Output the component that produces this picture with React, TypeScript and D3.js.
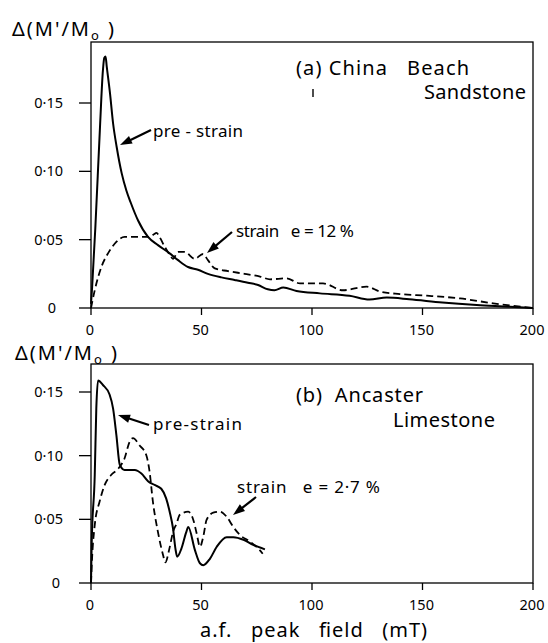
import React from "react";
import * as d3 from "d3";

// ---------- data ----------
const X_TICKS = [0, 50, 100, 150, 200];
const X_TICK_LABELS = ["0", "50", "100", "150", "200"];
const Y_TICKS = [0, 0.05, 0.1, 0.15];
const Y_TICK_LABELS = ["0", "0·05", "0·10", "0·15"];

// (a) China Beach Sandstone
const aPreX = [0, 0.5, 2, 4, 5.4, 6, 6.6, 7.1, 8.6, 10, 11.6, 13.9, 16, 18, 21.3, 25.8, 30.3, 35.6, 39.4, 43.9, 48.4, 52.9, 59, 65, 71, 75.6, 80, 83, 87, 93, 103.6, 117, 126, 133.8, 144, 159, 174.5, 189.6, 200];
const aPreY = [0.003, 0.015, 0.06, 0.13, 0.174, 0.183, 0.184, 0.177, 0.157, 0.135, 0.118, 0.0985, 0.086, 0.077, 0.064, 0.052, 0.046, 0.04, 0.035, 0.03, 0.028, 0.025, 0.0224, 0.0205, 0.0185, 0.0168, 0.0137, 0.013, 0.015, 0.0124, 0.0107, 0.009, 0.0062, 0.0076, 0.0064, 0.004, 0.0022, 0.001, 0.0];
const aStrainX = [0, 0.5, 1.7, 4.7, 7.7, 10.7, 15.2, 21.3, 26.5, 28.5, 29.6, 31, 33.3, 35.6, 37.1, 39.4, 42.4, 46.9, 50.7, 52.9, 56, 62, 69.5, 76.5, 81, 88.5, 94.6, 105, 114, 124.7, 130.8, 139.8, 152, 167, 182, 197, 200];
const aStrainY = [0, 0.004, 0.013, 0.03, 0.04, 0.047, 0.052, 0.052, 0.052, 0.054, 0.055, 0.052, 0.045, 0.039, 0.036, 0.041, 0.041, 0.036, 0.0395, 0.035, 0.029, 0.027, 0.025, 0.023, 0.021, 0.0217, 0.018, 0.018, 0.013, 0.0156, 0.012, 0.0102, 0.009, 0.007, 0.0034, 0.0005, 0];

// (b) Ancaster Limestone
const bPreX = [0, 0.3, 1.7, 2.4, 3.2, 5.4, 8.4, 10, 11.5, 13, 15.2, 19.8, 22.8, 25.8, 28.8, 31.8, 34, 35.6, 37.1, 38.2, 39, 40.9, 43.1, 44, 47, 49.3, 50.8, 53.8, 56.9, 61.4, 64.4, 69, 73.4, 78.7];
const bPreY = [0, 0.03, 0.085, 0.137, 0.159, 0.1555, 0.148, 0.137, 0.116, 0.093, 0.0888, 0.0888, 0.086, 0.08, 0.077, 0.074, 0.0665, 0.056, 0.043, 0.027, 0.0207, 0.027, 0.04, 0.044, 0.026, 0.0155, 0.014, 0.019, 0.0285, 0.036, 0.036, 0.034, 0.03, 0.0264];
const bStrainX = [0, 0.5, 1.7, 3.9, 6.2, 9.2, 12.2, 15.2, 17.5, 19, 22, 25, 26.5, 28, 30.3, 32.6, 33.6, 35.6, 37.1, 38.8, 40.1, 44, 46.3, 47.8, 49.3, 50.8, 52.3, 55.3, 58.4, 61.4, 64.4, 67.4, 72, 75.7, 77.7];
const bStrainY = [0, 0.02, 0.0456, 0.064, 0.077, 0.085, 0.0895, 0.098, 0.111, 0.1137, 0.108, 0.1005, 0.0875, 0.064, 0.04, 0.022, 0.0162, 0.028, 0.04, 0.047, 0.0534, 0.056, 0.0495, 0.039, 0.0285, 0.0364, 0.0495, 0.0552, 0.056, 0.052, 0.044, 0.0377, 0.0325, 0.027, 0.023];

const FONT = "'Noto Sans', 'DejaVu Sans', sans-serif";
const PRE: React.CSSProperties = { whiteSpace: "pre" };

const xScale = d3.scaleLinear().domain([0, 200]).range([91, 533]);

function zip(xs: number[], ys: number[]): [number, number][] {
  return xs.map((x, i) => [x, ys[i]]);
}

function Arrow({ x1, y1, x2, y2 }: { x1: number; y1: number; x2: number; y2: number }) {
  const ang = Math.atan2(y2 - y1, x2 - x1);
  const L = 12;
  const W = 4.2;
  const bx = x2 - L * Math.cos(ang);
  const by = y2 - L * Math.sin(ang);
  const px = -Math.sin(ang) * W;
  const py = Math.cos(ang) * W;
  return (
    <g>
      <line x1={x1} y1={y1} x2={bx + Math.cos(ang) * 2} y2={by + Math.sin(ang) * 2} stroke="#000" strokeWidth={2.2} />
      <polygon points={`${x2},${y2} ${bx + px},${by + py} ${bx - px},${by - py}`} fill="#000" />
    </g>
  );
}

function YTitle({ x, y }: { x: number; y: number }) {
  return (
    <text x={x} y={y} fontFamily={FONT} fontSize={20} letterSpacing={2} fill="#000" style={PRE}>
      Δ(M'/M
      <tspan fontSize={13} dy={4}>o</tspan>
      <tspan dy={-4}> )</tspan>
    </text>
  );
}

function Panel({
  top, zeroY, y15, preX, preY, strX, strY, zeroLabelEnd,
}: {
  top: number; zeroY: number; y15: number;
  preX: number[]; preY: number[]; strX: number[]; strY: number[];
  zeroLabelEnd: number;
}) {
  const y = d3.scaleLinear().domain([0, 0.15]).range([zeroY, y15]);
  const line = d3
    .line<[number, number]>()
    .x((d) => xScale(d[0]))
    .y((d) => y(d[1]))
    .curve(d3.curveMonotoneX);
  const [x0, x1] = xScale.range();
  return (
    <g>
      <rect x={x0} y={top} width={x1 - x0} height={zeroY - top} fill="none" stroke="#000" strokeWidth={1.3} />
      {Y_TICKS.map((t, i) => (
        <g key={"y" + i}>
          <line x1={x0 - 12} x2={x0} y1={y(t)} y2={y(t)} stroke="#000" strokeWidth={1.3} />
          <text
            x={i === 0 ? zeroLabelEnd : 63}
            y={y(t) + 5}
            textAnchor="end"
            fontFamily={FONT}
            fontSize={14.5}
            fill="#000"
          >
            {Y_TICK_LABELS[i]}
          </text>
        </g>
      ))}
      {X_TICKS.map((t, i) => (
        <g key={"x" + i}>
          <line x1={xScale(t)} x2={xScale(t)} y1={zeroY} y2={zeroY + 7} stroke="#000" strokeWidth={1.3} />
          <text x={xScale(t) - 1} y={zeroY + 27} textAnchor="middle" fontFamily={FONT} fontSize={14.5} fill="#000">
            {X_TICK_LABELS[i]}
          </text>
        </g>
      ))}
      <path d={line(zip(strX, strY)) || ""} fill="none" stroke="#000" strokeWidth={1.8} strokeDasharray="7 4" />
      <path d={line(zip(preX, preY)) || ""} fill="none" stroke="#000" strokeWidth={2} strokeLinejoin="round" />
    </g>
  );
}

export default function App() {
  return (
    <svg
      width={548}
      height={643}
      viewBox="0 0 548 643"
      style={{ position: "absolute", left: 0, top: 0, background: "#fff" }}
    >
      <rect x={0} y={0} width={548} height={643} fill="#fff" />
      {/* panel (a) */}
      <YTitle x={12} y={36} />
      <Panel top={42} zeroY={308} y15={103} preX={aPreX} preY={aPreY} strX={aStrainX} strY={aStrainY} zeroLabelEnd={56} />
      <text x={296} y={75} fontFamily={FONT} fontSize={20} textLength={173} lengthAdjust="spacing" fill="#000" style={PRE}>
        (a) China   Beach
      </text>
      <text x={424} y={99} fontFamily={FONT} fontSize={20} textLength={102} lengthAdjust="spacing" fill="#000">
        Sandstone
      </text>
      <line x1={313} x2={313} y1={89} y2={97} stroke="#000" strokeWidth={1.4} />
      <text x={153} y={137} fontFamily={FONT} fontSize={17} textLength={90} lengthAdjust="spacing" fill="#000" style={PRE}>
        pre - strain
      </text>
      <Arrow x1={151} y1={130} x2={120} y2={145} />
      <text x={236} y={237} fontFamily={FONT} fontSize={17} textLength={118} lengthAdjust="spacing" fill="#000" style={PRE}>
        strain   e = 12 %
      </text>
      <Arrow x1={232} y1={232} x2={207} y2={253} />

      {/* panel (b) */}
      <YTitle x={15} y={360} />
      <Panel top={364} zeroY={583} y15={392} preX={bPreX} preY={bPreY} strX={bStrainX} strY={bStrainY} zeroLabelEnd={60} />
      <text x={296} y={402} fontFamily={FONT} fontSize={20} textLength={127} lengthAdjust="spacing" fill="#000" style={PRE}>
        (b)  Ancaster
      </text>
      <text x={393} y={427} fontFamily={FONT} fontSize={20} textLength={102} lengthAdjust="spacing" fill="#000">
        Limestone
      </text>
      <text x={153} y={430} fontFamily={FONT} fontSize={17} textLength={89} lengthAdjust="spacing" fill="#000">
        pre-strain
      </text>
      <Arrow x1={149} y1={425} x2={118} y2={415} />
      <text x={237} y={493} fontFamily={FONT} fontSize={17} textLength={143} lengthAdjust="spacing" fill="#000" style={PRE}>
        strain   e = 2·7 %
      </text>
      <Arrow x1={256} y1={497} x2={233} y2={515} />

      <text x={200} y={637} fontFamily={FONT} fontSize={20} textLength={227} lengthAdjust="spacing" fill="#000" style={PRE}>
        a.f.   peak   field   (mT)
      </text>
    </svg>
  );
}
